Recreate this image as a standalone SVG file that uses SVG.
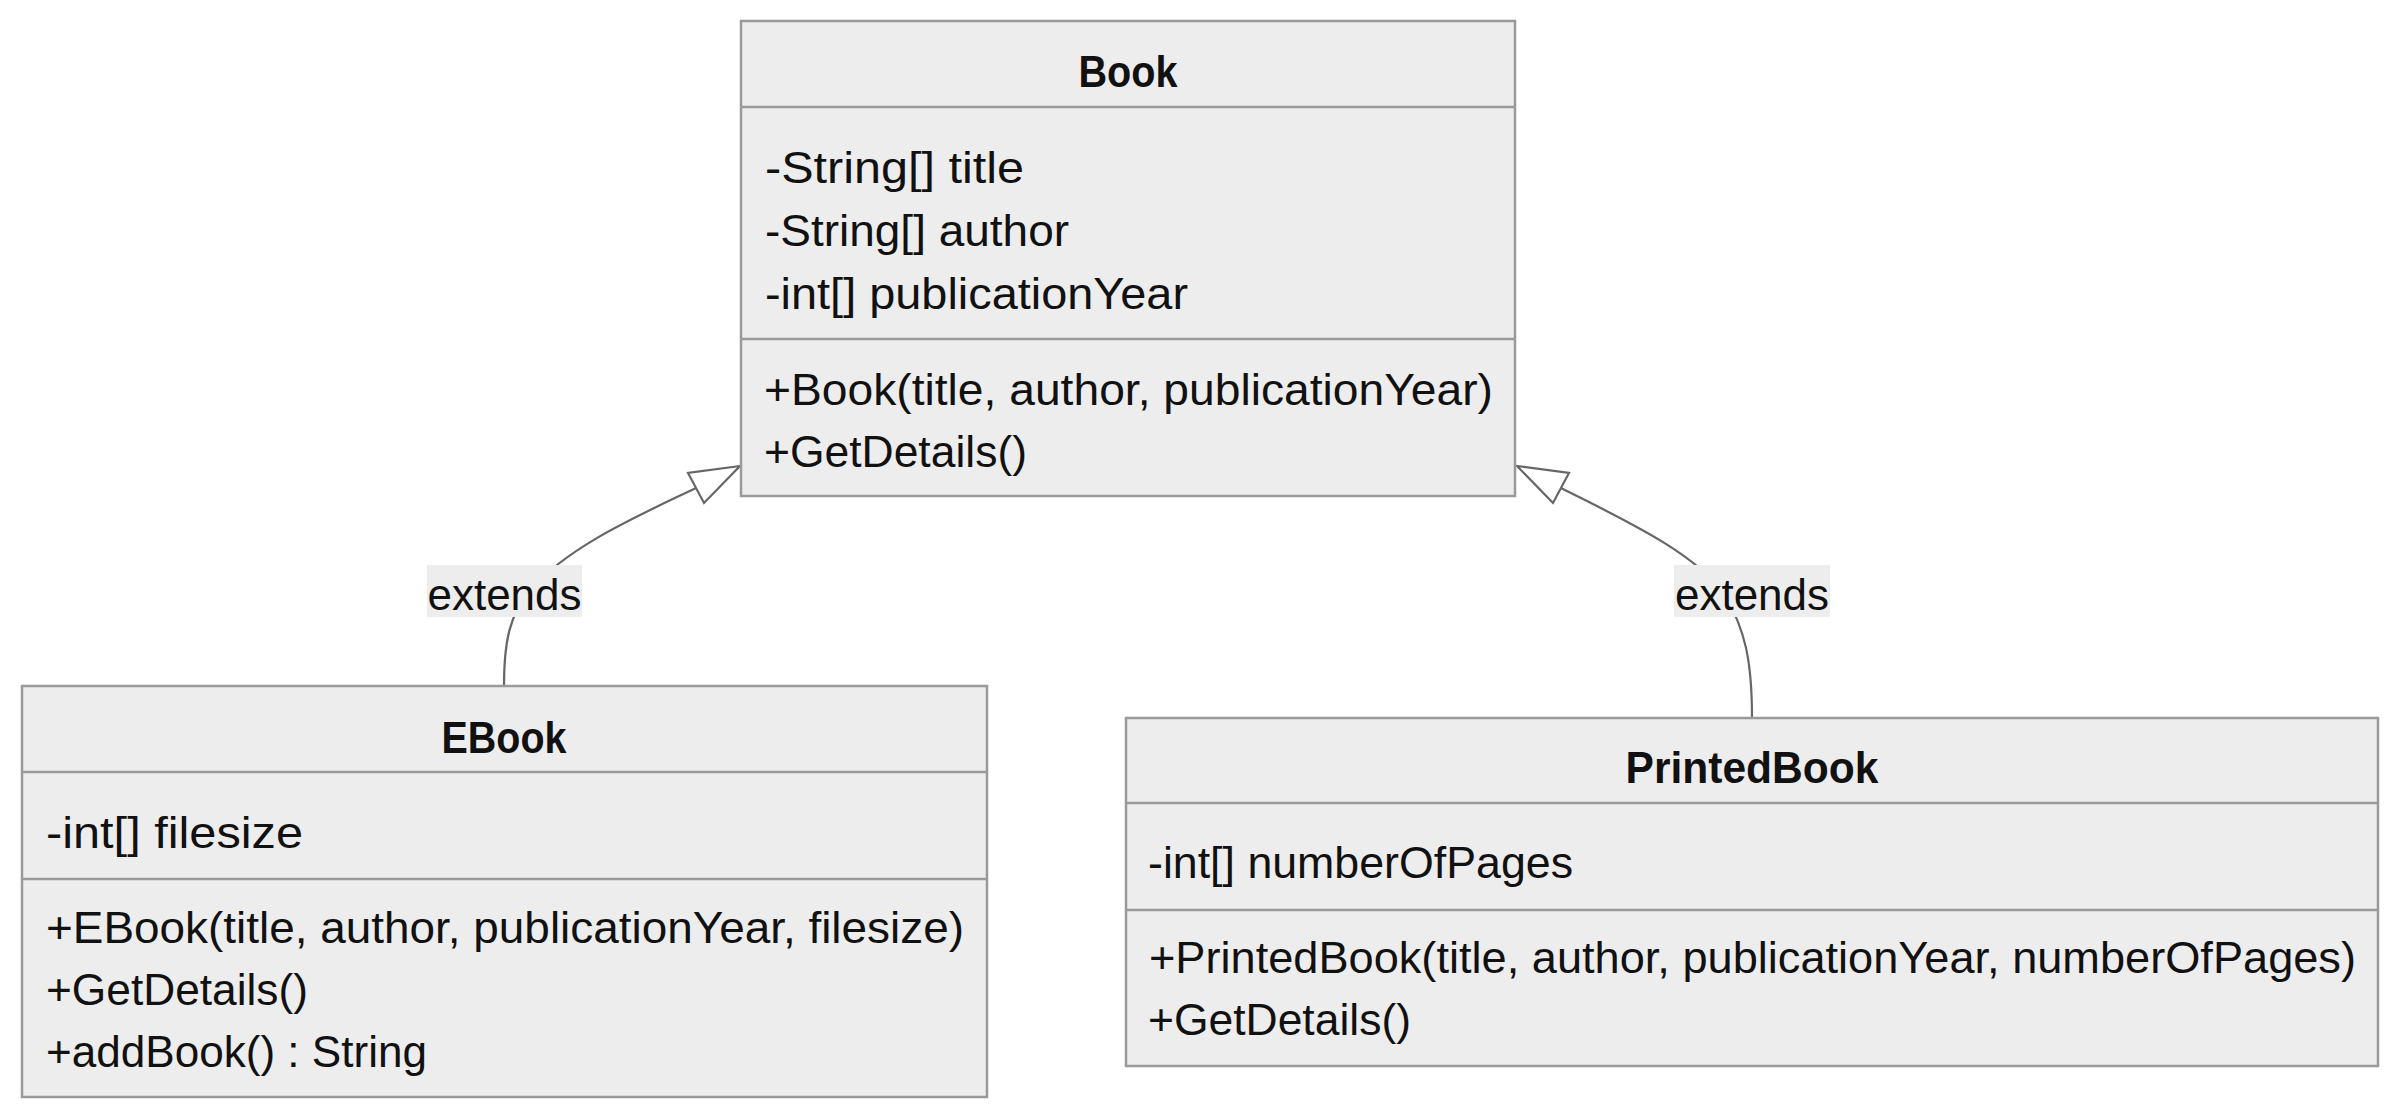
<svg xmlns="http://www.w3.org/2000/svg" width="2400" height="1120" viewBox="0 0 2400 1120">
<style>
.box{fill:#ededed;stroke:#9a9a9a;stroke-width:2.5}
.div{stroke:#9a9a9a;stroke-width:2.5}
.t{font-family:"Liberation Sans",Arial,sans-serif;font-size:44px;fill:#111}
.title{font-family:"Liberation Sans",Arial,sans-serif;font-size:44px;font-weight:bold;fill:#111;text-anchor:middle}
.edge{fill:none;stroke:#666;stroke-width:2.2}
.arrow{fill:#fff;stroke:#666;stroke-width:2.2;stroke-linejoin:miter}
.lblbg{fill:#ededed}
.lbl{font-family:"Liberation Sans",Arial,sans-serif;font-size:44px;fill:#111;text-anchor:middle}
</style>
<rect width="2400" height="1120" fill="#fff"/>
<g id="connectors">
<path class="edge" d="M504,686 C504,640 510,615 530,590 C570,545 640,515 696,488"/>
<polygon class="arrow" points="740,466 688,473 704,503"/>
<rect class="lblbg" x="427" y="565" width="155" height="52"/>
<text class="lbl" x="504.5" y="610">extends</text>
<path class="edge" d="M1752,718 C1752,660 1745,630 1725,595 C1695,552 1620,518 1561,488"/>
<polygon class="arrow" points="1517,466 1569,473 1553,503"/>
<rect class="lblbg" x="1674" y="565" width="156" height="52"/>
<text class="lbl" x="1752" y="610">extends</text>
</g>
<g id="Book">
<rect class="box" x="741" y="21" width="774" height="475"/>
<line class="div" x1="741" y1="107" x2="1515" y2="107"/>
<line class="div" x1="741" y1="339" x2="1515" y2="339"/>
<text class="title" x="1128" y="87" textLength="99" lengthAdjust="spacingAndGlyphs">Book</text>
<text class="t" x="765" y="183" textLength="259" lengthAdjust="spacingAndGlyphs">-String[] title</text>
<text class="t" x="765" y="246" textLength="304" lengthAdjust="spacingAndGlyphs">-String[] author</text>
<text class="t" x="765" y="309" textLength="423" lengthAdjust="spacingAndGlyphs">-int[] publicationYear</text>
<text class="t" x="764" y="405" textLength="729" lengthAdjust="spacingAndGlyphs">+Book(title, author, publicationYear)</text>
<text class="t" x="764" y="467" textLength="263" lengthAdjust="spacingAndGlyphs">+GetDetails()</text>
</g>
<g id="EBook">
<rect class="box" x="22" y="686" width="965" height="411"/>
<line class="div" x1="22" y1="772" x2="987" y2="772"/>
<line class="div" x1="22" y1="879" x2="987" y2="879"/>
<text class="title" x="504" y="753" textLength="125" lengthAdjust="spacingAndGlyphs">EBook</text>
<text class="t" x="46" y="848" textLength="257" lengthAdjust="spacingAndGlyphs">-int[] filesize</text>
<text class="t" x="46" y="943" textLength="918" lengthAdjust="spacingAndGlyphs">+EBook(title, author, publicationYear, filesize)</text>
<text class="t" x="46" y="1005" textLength="262" lengthAdjust="spacingAndGlyphs">+GetDetails()</text>
<text class="t" x="46" y="1067" textLength="381" lengthAdjust="spacingAndGlyphs">+addBook() : String</text>
</g>
<g id="PrintedBook">
<rect class="box" x="1126" y="718" width="1252" height="348"/>
<line class="div" x1="1126" y1="803" x2="2378" y2="803"/>
<line class="div" x1="1126" y1="910" x2="2378" y2="910"/>
<text class="title" x="1752" y="783" textLength="253" lengthAdjust="spacingAndGlyphs">PrintedBook</text>
<text class="t" x="1148" y="878" textLength="425" lengthAdjust="spacingAndGlyphs">-int[] numberOfPages</text>
<text class="t" x="1149" y="973" textLength="1207" lengthAdjust="spacingAndGlyphs">+PrintedBook(title, author, publicationYear, numberOfPages)</text>
<text class="t" x="1148" y="1035" textLength="263" lengthAdjust="spacingAndGlyphs">+GetDetails()</text>
</g>
</svg>
